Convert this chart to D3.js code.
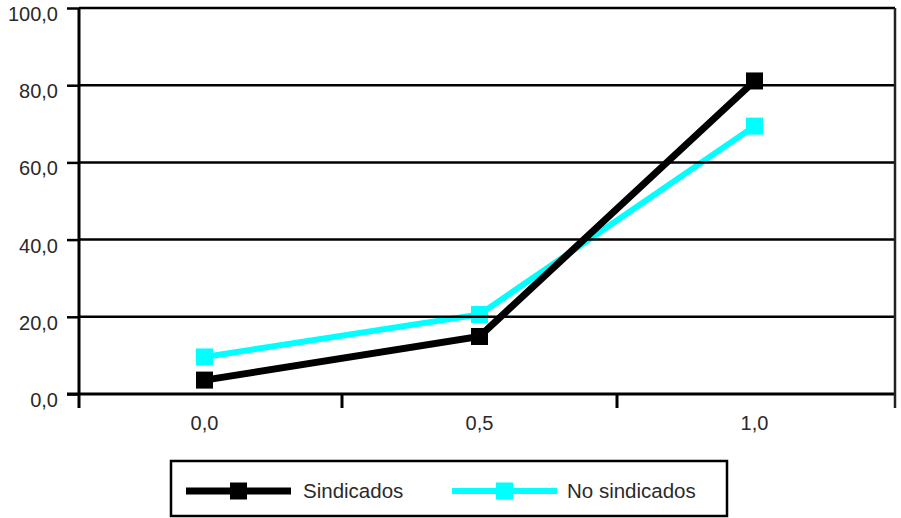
<!DOCTYPE html>
<html>
<head>
<meta charset="utf-8">
<script src="https://cdn.jsdelivr.net/npm/d3@7"></script>
<style>
  html, body { margin: 0; padding: 0; background: #fff; }
  svg { display: block; }
  text { font-family: "Liberation Sans", Arial, sans-serif; fill: #2a2a2a; }
</style>
</head>
<body>
<svg id="chart" width="901" height="518"></svg>
<script>
// Categories on the x axis and the two series
const categories = ["0,0", "0,5", "1,0"];
const sindicados = [3.6, 14.9, 81.1];
const noSindicados = [9.6, 20.6, 69.4];
const yTicks = [0, 20, 40, 60, 80, 100];

const seriesList = [
  { name: "No sindicados", values: noSindicados, color: "#00FFFF", width: 6 },
  { name: "Sindicados", values: sindicados, color: "#000000", width: 7 }
];

const svg = d3.select("#chart");
const axisX = 79, rightX = 895, topY = 8, bottomY = 394;

const x = d3.scaleBand().domain(categories).range([67, 892]).paddingInner(0).paddingOuter(0);
const y = d3.scaleLinear().domain([0, 100]).range([bottomY, topY]);
const fmt = v => d3.format(".1f")(v).replace(".", ",");

// Series lines and square markers
const line = d3.line().x((d, i) => x(categories[i]) + x.bandwidth() / 2).y(d => y(d));
seriesList.forEach(s => {
  svg.append("path").datum(s.values)
    .attr("d", line).attr("fill", "none")
    .attr("stroke", s.color).attr("stroke-width", s.width)
    .attr("stroke-linejoin", "miter");
  svg.selectAll(null).data(s.values).enter().append("rect")
    .attr("x", (d, i) => x(categories[i]) + x.bandwidth() / 2 - 8.5)
    .attr("y", d => y(d) - 8.5)
    .attr("width", 17).attr("height", 17)
    .attr("fill", s.color);
});

// Horizontal gridlines with tick stubs
const yAxis = d3.axisLeft(y).tickValues(yTicks).tickSize(12).tickFormat(fmt);
const gy = svg.append("g").attr("transform", `translate(${axisX},0)`).call(yAxis);
gy.select(".domain").remove();
gy.selectAll(".tick line").attr("stroke", "#000").attr("stroke-width", 2.5);
gy.selectAll(".tick text").attr("x", -21).attr("dy", "0.62em")
  .style("font-size", "20px").attr("fill", "#2a2a2a");
svg.append("g").selectAll("line").data(yTicks.filter(v => v > 0)).enter().append("line")
  .attr("x1", axisX).attr("x2", rightX)
  .attr("y1", d => y(d)).attr("y2", d => y(d))
  .attr("stroke", "#000").attr("stroke-width", 2.5);

// X axis line with boundary ticks between categories
const xAxis = d3.axisBottom(x).tickSize(0).tickPadding(22);
const gx = svg.append("g").attr("transform", `translate(0,${bottomY})`).call(xAxis);
gx.select(".domain").remove();
gx.selectAll(".tick text").style("font-size", "20px").attr("fill", "#2a2a2a");
svg.append("line").attr("x1", 67).attr("x2", rightX).attr("y1", bottomY).attr("y2", bottomY)
  .attr("stroke", "#000").attr("stroke-width", 3);
const boundaries = categories.slice(1).map(c => x(c));
svg.append("g").selectAll("line").data(boundaries).enter().append("line")
  .attr("x1", d => d).attr("x2", d => d).attr("y1", bottomY).attr("y2", bottomY + 14)
  .attr("stroke", "#000").attr("stroke-width", 3);

// Left axis line and right border of the plot
svg.append("line").attr("x1", axisX).attr("x2", axisX).attr("y1", topY).attr("y2", bottomY + 14)
  .attr("stroke", "#000").attr("stroke-width", 3);
svg.append("line").attr("x1", rightX).attr("x2", rightX).attr("y1", topY).attr("y2", bottomY + 14)
  .attr("stroke", "#222").attr("stroke-width", 2.5);

// Legend
const legend = svg.append("g");
legend.append("rect").attr("x", 171).attr("y", 461).attr("width", 556).attr("height", 55)
  .attr("fill", "#fff").attr("stroke", "#000").attr("stroke-width", 2.5);
const legendItems = [
  { s: seriesList[1], x0: 186, tx: 303 },
  { s: seriesList[0], x0: 452, tx: 567 }
];
legendItems.forEach(it => {
  const cy = 491;
  legend.append("line").attr("x1", it.x0).attr("x2", it.x0 + 105)
    .attr("y1", cy).attr("y2", cy)
    .attr("stroke", it.s.color).attr("stroke-width", it.s.width);
  legend.append("rect").attr("x", it.x0 + 52.5 - 8.5).attr("y", cy - 8.5)
    .attr("width", 17).attr("height", 17).attr("fill", it.s.color);
  legend.append("text").attr("x", it.tx).attr("y", cy).attr("dy", "0.35em")
    .style("font-size", "20.5px").text(it.s.name);
});
</script>
</body>
</html>
